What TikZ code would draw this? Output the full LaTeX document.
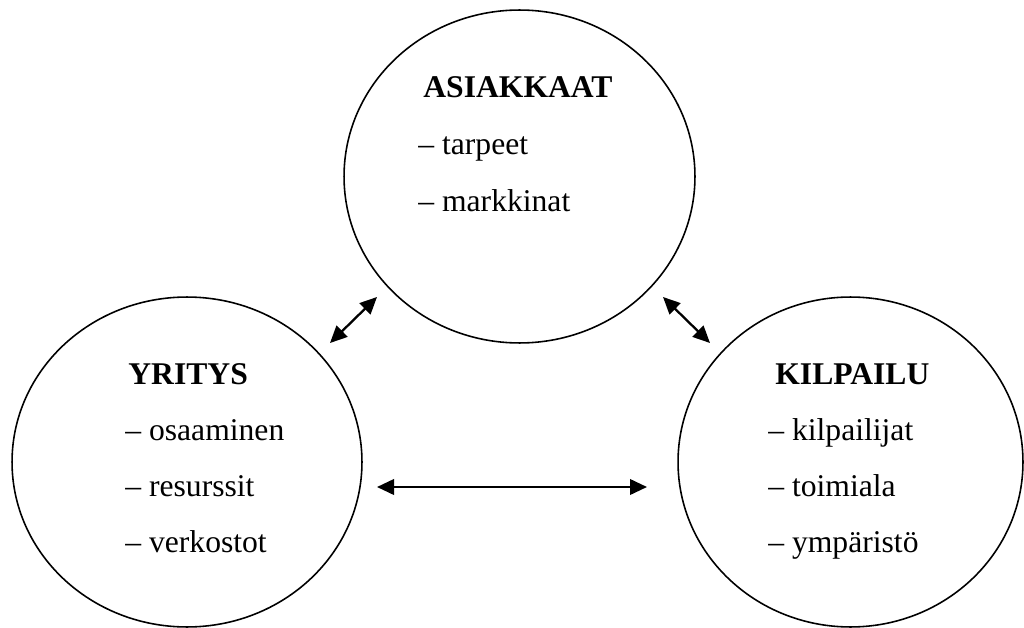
\documentclass[tikz,border=0pt]{standalone}
\usepackage{fontspec}
\setmainfont{Liberation Serif}
\usetikzlibrary{shapes.geometric,arrows.meta}
\tikzset{
	>={Triangle[length=0.34cm,width=0.31cm]},
	kehä/.style={ellipse, draw=black, line width=0.9pt, inner sep=0pt},
	otsikko/.style={anchor=base west, inner sep=0pt,
		font=\fontsize{18}{22}\selectfont\bfseries},
	kohta/.style={anchor=base west, inner sep=0pt,
		font=\fontsize{18}{22}\selectfont},
	nuoli/.style={<->, line width=1.3pt},
}

\begin{document}
\begin{tikzpicture}[x=0.02cm, y=-0.02cm]
\useasboundingbox (0,0) rectangle (1024,628);

% ympyrät
\node[kehä, minimum width=7.02cm, minimum height=6.66cm] (asiakkaat) at (519.5,176.5) {};
\node[kehä, minimum width=7.0cm, minimum height=6.6cm] (yritys) at (187,462) {};
\node[kehä, minimum width=6.9cm, minimum height=6.6cm] (kilpailu) at (850.5,462) {};

% tekstit
\node[otsikko] (asiakkaat-h) at (423,98) {ASIAKKAAT};
\foreach \t [count=\i] in {tarpeet,markkinat}
	\node[kohta] (asiakkaat-\i) at (418,{98+\i*57}) {– \t};

\node[otsikko] (yritys-h) at (128,384) {YRITYS};
\foreach \t [count=\i] in {osaaminen,resurssit,verkostot}
	\node[kohta] (yritys-\i) at (125,{384+\i*56.3}) {– \t};

\node[otsikko] (kilpailu-h) at (775,384) {KILPAILU};
\foreach \t [count=\i] in {kilpailijat,toimiala,ympäristö}
	\node[kohta] (kilpailu-\i) at (768,{384+\i*56.3}) {– \t};

% nuolet
\coordinate (ya) at (330,343);
\coordinate (ay) at (377,297);
\coordinate (ak) at (663,297);
\coordinate (ka) at (710,343);
\coordinate (yk) at (377,487);
\coordinate (ky) at (647,487);
\draw[nuoli] (ya) -- (ay);
\draw[nuoli] (ak) -- (ka);
\draw[nuoli] (yk) -- (ky);
\end{tikzpicture}
\end{document}
